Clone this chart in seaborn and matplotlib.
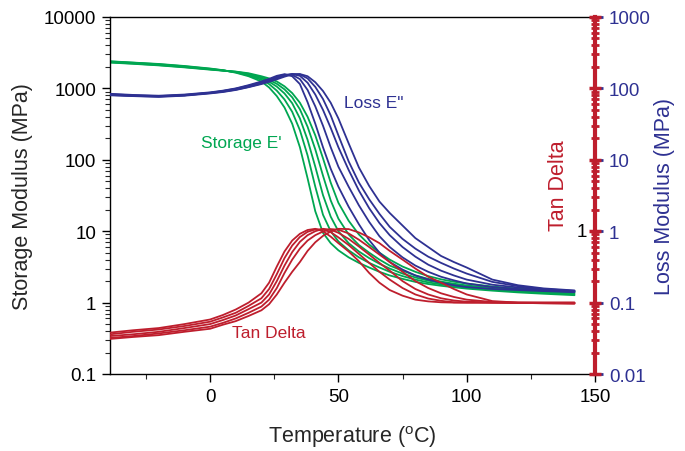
import numpy as np
import pandas as pd
import matplotlib
matplotlib.use("Agg")
import matplotlib.pyplot as plt
import matplotlib.ticker as mticker
import seaborn as sns

# temperature grid (degC), shared by all curves
temps = [-39, -30, -20, -10, 0, 5, 10, 15, 20, 23, 26, 29, 32, 35, 38, 41, 44, 47,
         50, 54, 58, 62, 66, 70, 75, 80, 85, 90, 95, 100, 110, 120, 130, 142]

# storage modulus E' (MPa), 5 runs
storage_curves = [
    [2400, 2300, 2200, 2060, 1900, 1800, 1660, 1480, 1250, 1030, 780, 540, 320, 150, 55, 19, 9.5, 6.8,
     5.4, 4.3, 3.6, 3.1, 2.7, 2.4, 2.15, 1.95, 1.82, 1.72, 1.64, 1.57, 1.47, 1.39, 1.33, 1.27],
    [2380, 2290, 2180, 2040, 1880, 1790, 1680, 1520, 1320, 1150, 930, 700, 470, 260, 115, 42, 17, 10,
     7.2, 5.4, 4.3, 3.6, 3.1, 2.7, 2.35, 2.1, 1.92, 1.8, 1.7, 1.62, 1.52, 1.44, 1.37, 1.31],
    [2350, 2260, 2150, 2010, 1860, 1780, 1700, 1560, 1380, 1240, 1060, 850, 620, 380, 190, 80, 32, 16,
     10, 6.8, 5.2, 4.2, 3.5, 3.0, 2.55, 2.25, 2.03, 1.88, 1.77, 1.68, 1.56, 1.47, 1.41, 1.35],
    [2320, 2230, 2120, 1990, 1850, 1780, 1710, 1600, 1430, 1310, 1160, 970, 750, 510, 290, 140, 60, 27,
     15, 9, 6.4, 5.0, 4.0, 3.3, 2.8, 2.4, 2.15, 1.97, 1.84, 1.74, 1.6, 1.51, 1.45, 1.4],
    [2300, 2210, 2100, 1970, 1830, 1770, 1720, 1630, 1480, 1380, 1250, 1070, 860, 630, 400, 220, 105, 48,
     25, 14, 9, 6.5, 5.0, 4.0, 3.2, 2.7, 2.35, 2.12, 1.96, 1.85, 1.68, 1.57, 1.5, 1.45],
]

# loss modulus E'' (MPa), 5 runs
loss_curves = [
    [84, 81, 79, 82, 88, 93, 100, 111, 125, 136, 150, 158, 148, 115, 64, 32, 15, 7.5,
     4.2, 2.2, 1.25, 0.75, 0.5, 0.37, 0.29, 0.24, 0.21, 0.19, 0.175, 0.165, 0.155, 0.15, 0.145, 0.14],
    [83, 80, 78, 81, 87, 92, 99, 109, 122, 132, 145, 156, 155, 135, 95, 56, 30, 15,
     8.0, 4.2, 2.3, 1.35, 0.85, 0.6, 0.43, 0.33, 0.27, 0.23, 0.205, 0.185, 0.165, 0.155, 0.148, 0.142],
    [82, 79, 77.5, 80, 86.5, 91, 97.5, 107, 120, 129, 141, 153, 159, 150, 120, 82, 50, 28,
     15, 7.2, 3.7, 2.1, 1.3, 0.88, 0.6, 0.44, 0.34, 0.28, 0.24, 0.21, 0.178, 0.163, 0.152, 0.144],
    [81, 78.5, 77, 80, 86, 90, 96, 105, 117, 126, 137, 150, 159, 157, 138, 105, 71, 42,
     22, 9.5, 4.8, 2.8, 1.75, 1.15, 0.78, 0.57, 0.44, 0.36, 0.3, 0.255, 0.195, 0.17, 0.155, 0.146],
    [80, 78, 76, 79, 85, 89, 95, 104, 115, 124, 134, 146, 157, 159, 148, 122, 92, 63,
     38, 17, 7.8, 4.3, 2.6, 1.8, 1.2, 0.8, 0.6, 0.45, 0.37, 0.31, 0.21, 0.175, 0.158, 0.148],
]

# tan delta, 5 runs
tan_curves = [
    [0.038, 0.041, 0.044, 0.05, 0.058, 0.067, 0.08, 0.1, 0.135, 0.19, 0.32, 0.52, 0.74, 0.92, 1.04, 1.08, 1.0, 0.84,
     0.68, 0.52, 0.38, 0.26, 0.19, 0.15, 0.125, 0.11, 0.104, 0.101, 0.1, 0.1, 0.1, 0.099, 0.098, 0.097],
    [0.036, 0.039, 0.042, 0.047, 0.054, 0.062, 0.072, 0.09, 0.115, 0.155, 0.25, 0.42, 0.63, 0.83, 0.98, 1.06, 1.06, 0.97,
     0.82, 0.64, 0.48, 0.36, 0.27, 0.21, 0.16, 0.13, 0.114, 0.106, 0.101, 0.1, 0.1, 0.099, 0.098, 0.097],
    [0.034, 0.036, 0.039, 0.044, 0.05, 0.057, 0.066, 0.081, 0.1, 0.13, 0.2, 0.33, 0.51, 0.71, 0.88, 1.0, 1.08, 1.05,
     0.95, 0.78, 0.61, 0.47, 0.36, 0.28, 0.2, 0.155, 0.13, 0.115, 0.107, 0.103, 0.1, 0.1, 0.099, 0.098],
    [0.032, 0.034, 0.037, 0.041, 0.046, 0.052, 0.06, 0.072, 0.088, 0.11, 0.16, 0.26, 0.4, 0.57, 0.74, 0.88, 0.99, 1.07,
     1.05, 0.93, 0.76, 0.6, 0.47, 0.37, 0.27, 0.2, 0.16, 0.135, 0.12, 0.11, 0.102, 0.1, 0.1, 0.1],
    [0.031, 0.033, 0.035, 0.039, 0.043, 0.049, 0.055, 0.065, 0.078, 0.095, 0.13, 0.19, 0.27, 0.37, 0.53, 0.7, 0.86, 0.99,
     1.08, 1.07, 0.96, 0.82, 0.68, 0.53, 0.4, 0.3, 0.23, 0.19, 0.155, 0.13, 0.105, 0.1, 0.1, 0.1],
]

left_ticks = [0.1, 1, 10, 100, 1000, 10000]
right_ticks = [0.01, 0.1, 1, 10, 100, 1000]
x_ticks = [0, 50, 100, 150]

green = "#00a651"
blue = "#2e3192"
red = "#be1e2d"

sns.set_style("ticks")
plt.rcParams["font.family"] = ["Liberation Sans", "DejaVu Sans"]
plt.rcParams["font.size"] = 13.5

fig = plt.figure(figsize=(6.85, 4.52), dpi=100)
ax = fig.add_axes([110 / 685, 1 - 375 / 452, 485 / 685, 357 / 452])
ax2 = ax.twinx()
ax3 = ax.twinx()

for vals in storage_curves:
    sns.lineplot(x=temps, y=vals, ax=ax, color=green, lw=1.3)
for vals in loss_curves:
    sns.lineplot(x=temps, y=vals, ax=ax2, color=blue, lw=1.3)
for vals in tan_curves:
    sns.lineplot(x=temps, y=vals, ax=ax3, color=red, lw=1.3)

# left axis: storage modulus
ax.set_yscale("log")
ax.set_ylim(0.1, 10000)
ax.set_xlim(-39, 150)
ax.set_yticks(left_ticks, [str(t) if t < 1 else str(int(t)) for t in left_ticks])
ax.yaxis.set_minor_locator(mticker.LogLocator(base=10, subs=np.arange(2, 10)))
ax.yaxis.set_minor_formatter(mticker.NullFormatter())
ax.set_xticks(x_ticks)
ax.set_xticks([-25, 25, 75, 125], minor=True)
ax.tick_params(axis="both", which="major", direction="out", length=6, width=1, colors="black", pad=4)
ax.tick_params(axis="both", which="minor", direction="out", length=3.5, width=0.8)
ax.set_ylabel("Storage Modulus (MPa)", fontsize=15.5, labelpad=8)
ax.set_xlabel("Temperature ($^\\mathregular{o}$C)", fontsize=15.5, labelpad=13)
ax.spines["right"].set_visible(False)
for s in ["left", "bottom", "top"]:
    ax.spines[s].set_linewidth(1)
    ax.spines[s].set_color("black")

# right axis: loss modulus
ax2.set_yscale("log")
ax2.set_ylim(0.01, 1000)
ax2.set_yticks(right_ticks, [str(t) if t < 1 else str(int(t)) for t in right_ticks])
ax2.yaxis.set_minor_locator(mticker.NullLocator())
ax2.tick_params(axis="y", which="major", direction="out", length=6, width=2,
                colors=blue, labelcolor=blue, pad=4)
ax2.set_ylabel("Loss Modulus (MPa)", color=blue, fontsize=15.5, labelpad=2)
for s in ["left", "right", "top", "bottom"]:
    ax2.spines[s].set_visible(False)

# tan delta axis, drawn on top of the right edge
ax3.set_yscale("log")
ax3.set_ylim(0.01, 1000)
ax3.yaxis.set_major_locator(mticker.LogLocator(base=10))
ax3.yaxis.set_minor_locator(mticker.LogLocator(base=10, subs=np.arange(2, 10)))
ax3.yaxis.set_major_formatter(mticker.NullFormatter())
ax3.yaxis.set_minor_formatter(mticker.NullFormatter())
ax3.tick_params(axis="y", which="major", direction="inout", length=9, width=2.5, colors=red)
ax3.tick_params(axis="y", which="minor", direction="inout", length=6, width=2, colors=red)
for s in ["left", "top", "bottom"]:
    ax3.spines[s].set_visible(False)
ax3.spines["right"].set_color(red)
ax3.spines["right"].set_linewidth(3)
ax3.annotate("1", xy=(1, 1), xycoords=("axes fraction", "data"), xytext=(-6, 0),
             textcoords="offset points", ha="right", va="center", color="black", fontsize=13.5)
ax3.text(0.924, 0.53, "Tan Delta", transform=ax3.transAxes, rotation=90,
         ha="center", va="center", color=red, fontsize=15.5)
ax3.set_ylabel("")
ax2.set_xlim(-39, 150)
ax3.set_xlim(-39, 150)

# curve labels
ax.text(-3.5, 175, "Storage E'", color=green, fontsize=12.5, ha="left", va="center")
ax.text(52, 630, 'Loss E"', color=blue, fontsize=12.5, ha="left", va="center")
ax.text(8.6, 0.38, "Tan Delta", color=red, fontsize=12.5, ha="left", va="center")

fig.savefig("out.png", dpi=100)
